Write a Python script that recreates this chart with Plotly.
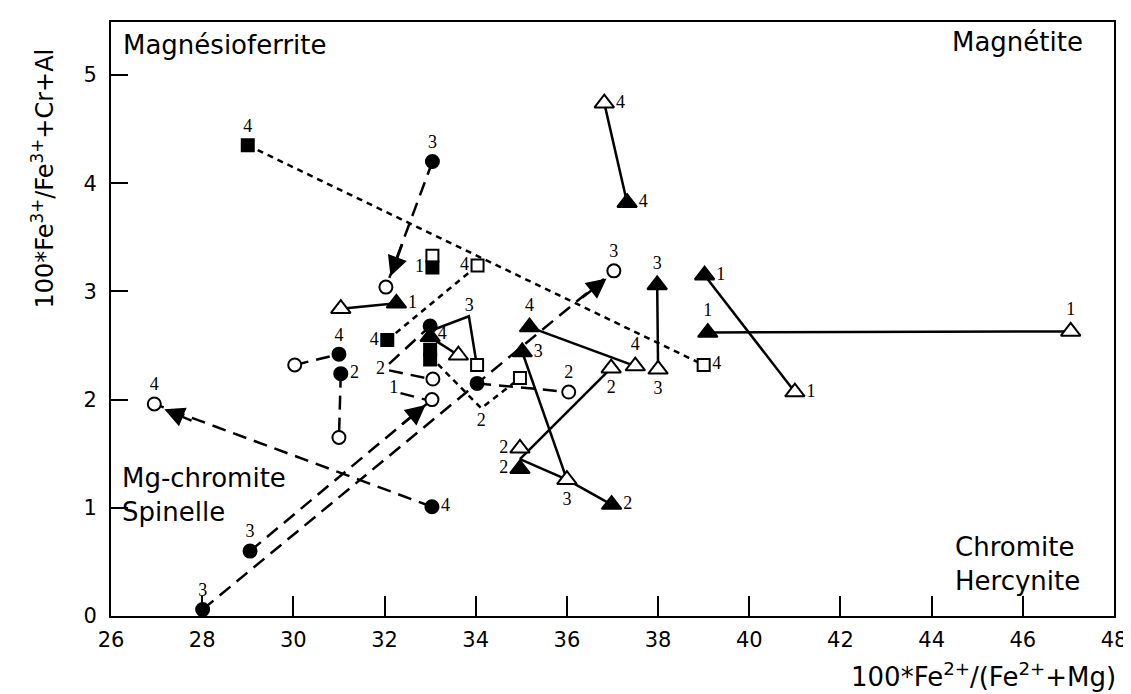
import plotly.graph_objects as go

# --- data ---
# filled circles
fc_x = [33.05, 31.0, 31.04, 34.03, 33.04, 29.05, 28.01, 33.0]
fc_y = [4.2, 2.42, 2.24, 2.15, 1.01, 0.6, 0.06, 2.68]
fc_lab = ["3", "4", "2", None, "4", "3", "3", None]
# open circles
oc_x = [32.03, 30.03, 31.0, 33.06, 33.04, 37.03, 36.04, 26.95]
oc_y = [3.04, 2.32, 1.65, 2.19, 2.0, 3.19, 2.07, 1.96]
oc_lab = [None, None, None, None, None, "3", "2", "4"]
# filled squares
fs_x = [29.0, 33.05, 32.06, 33.0, 33.0]
fs_y = [4.35, 3.22, 2.55, 2.46, 2.37]
fs_lab = ["4", "1", "4", None, None]
# open squares
os_x = [33.05, 34.04, 34.03, 34.97, 39.0]
os_y = [3.33, 3.24, 2.32, 2.2, 2.32]
os_lab = [None, "4", None, None, "4"]
# filled triangles
ft_x = [32.26, 37.32, 37.98, 39.02, 39.09, 35.18, 35.02, 34.97, 36.98, 33.0]
ft_y = [2.89, 3.82, 3.06, 3.15, 2.62, 2.67, 2.44, 1.36, 1.03, 2.58]
ft_lab = ["1", "4", "3", "1", "1", "4", "3", "2", "2", None]
# open triangles
ot_x = [31.04, 36.82, 38.0, 41.0, 47.05, 37.5, 36.97, 33.62, 34.97, 36.0]
ot_y = [2.84, 4.74, 2.28, 2.07, 2.63, 2.31, 2.29, 2.41, 1.55, 1.26]
ot_lab = [None, "4", "3", "1", "1", "4", "2", "4", "2", "3"]

# labels without a marker
free_x = [33.86, 34.12, 31.91, 32.2]
free_y = [2.86, 1.8, 2.28, 2.1]
free_lab = ["3", "2", "2", "1"]

# connecting lines (None separates segments)
solid_x = [31.04, 32.26, None, 36.82, 37.32, None, 37.98, 38.0, None, 39.02, 41.0, None,
           39.09, 47.05, None, 35.18, 37.5, None, 34.97, 36.97, None, 35.02, 36.0, None,
           34.97, 36.0, 36.98, None, 33.1, 33.85, 34.0, None, 33.1, 33.62]
solid_y = [2.84, 2.89, None, 4.74, 3.82, None, 3.06, 2.28, None, 3.15, 2.07, None,
           2.62, 2.63, None, 2.67, 2.31, None, 1.45, 2.29, None, 2.44, 1.26, None,
           1.45, 1.26, 1.03, None, 2.65, 2.77, 2.38, None, 2.55, 2.41]

dash_x = [33.05, 32.03, None, 33.04, 26.95, None, 29.05, 33.04, None, 28.01, 37.03, None,
          30.03, 31.0, None, 31.04, 31.0, None, 34.03, 36.04, None, 32.1, 33.0, None,
          32.1, 32.9, None, 32.35, 32.9]
dash_y = [4.2, 3.04, None, 1.01, 1.96, None, 0.6, 2.0, None, 0.06, 3.19, None,
          2.32, 2.42, None, 2.24, 1.65, None, 2.15, 2.07, None, 2.33, 2.68, None,
          2.27, 2.2, None, 2.06, 2.0]

dot_x = [29.0, 39.0, None, 32.06, 34.04, None, 33.0, 34.12, 34.97]
dot_y = [4.35, 2.32, None, 2.55, 3.24, None, 2.4, 1.92, 2.2]

# arrow heads: tip and base
arr_tip_x = [32.13, 27.17, 32.9, 36.87]
arr_tip_y = [3.14, 1.91, 1.95, 3.12]
arr_base_x = [32.4, 27.8, 32.35, 36.3]
arr_base_y = [3.45, 1.8, 1.76, 2.93]

x_ticks = [26, 28, 30, 32, 34, 36, 38, 40, 42, 44, 46, 48]
y_ticks = [0, 1, 2, 3, 4, 5]

lab_font = dict(family="Liberation Serif", size=18, color="black")
fig = go.Figure()

fig.add_trace(go.Scatter(x=solid_x, y=solid_y, mode="lines",
                         line=dict(color="black", width=2.5)))
fig.add_trace(go.Scatter(x=dash_x, y=dash_y, mode="lines",
                         line=dict(color="black", width=2.5, dash="14px,8px")))
fig.add_trace(go.Scatter(x=dot_x, y=dot_y, mode="lines",
                         line=dict(color="black", width=2.5, dash="6px,5px")))


def add_markers(x, y, lab, symbol, size, filled, positions):
    marker = dict(symbol=symbol, size=size, color="black" if filled else "white",
                  line=dict(color="black", width=2))
    plain = [i for i in range(len(x)) if lab[i] is None]
    named = [i for i in range(len(x)) if lab[i] is not None]
    if plain:
        fig.add_trace(go.Scatter(x=[x[i] for i in plain], y=[y[i] for i in plain],
                                 mode="markers", marker=marker))
    fig.add_trace(go.Scatter(
        x=[x[i] for i in named], y=[y[i] for i in named], mode="markers+text",
        text=[lab[i] for i in named], textposition=[positions[i] for i in named],
        textfont=lab_font, marker=marker))


add_markers(os_x, os_y, os_lab, "square", 12, False,
            ["middle left", "middle left", "top center", "top center", "middle right"])
add_markers(oc_x, oc_y, oc_lab, "circle", 13, False, ["top center"] * 8)
add_markers(ot_x, ot_y, ot_lab, "triangle-up", 17, False,
            ["top center", "middle right", "bottom center", "middle right", "top center",
             "top center", "bottom center", "top left", "middle left", "bottom center"])
add_markers(fs_x, fs_y, fs_lab, "square", 12, True,
            ["top center", "middle left", "middle left", "top center", "top center"])
add_markers(fc_x, fc_y, fc_lab, "circle", 13, True,
            ["top center", "top center", "middle right", "top center", "middle right",
             "top center", "top center", "top center"])
add_markers(ft_x, ft_y, ft_lab, "triangle-up", 17, True,
            ["middle right", "middle right", "top center", "middle right", "top center",
             "top center", "middle right", "middle left", "middle right", "top center"])

fig.add_trace(go.Scatter(x=free_x, y=free_y, mode="text", text=free_lab,
                         textposition="middle center", textfont=lab_font))

for tx, ty, bx, by in zip(arr_tip_x, arr_tip_y, arr_base_x, arr_base_y):
    fig.add_annotation(x=tx, y=ty, ax=bx, ay=by, xref="x", yref="y", axref="x", ayref="y",
                       text="", showarrow=True, arrowhead=2, arrowsize=1.6,
                       arrowwidth=2.5, arrowcolor="black", standoff=0)

region_font = dict(family="DejaVu Sans", size=26, color="black")
fig.add_annotation(text="Magnésioferrite", x=0.01, y=0.962, xref="paper", yref="paper",
                   xanchor="left", yanchor="middle", showarrow=False, font=region_font)
fig.add_annotation(text="Magnétite", x=0.971, y=0.966, xref="paper", yref="paper",
                   xanchor="right", yanchor="middle", showarrow=False, font=region_font)
fig.add_annotation(text="Mg-chromite<br>Spinelle", x=0.009, y=0.204, xref="paper", yref="paper",
                   xanchor="left", yanchor="middle", align="left", showarrow=False, font=region_font)
fig.add_annotation(text="Chromite<br>Hercynite", x=0.839, y=0.088, xref="paper", yref="paper",
                   xanchor="left", yanchor="middle", align="left", showarrow=False, font=region_font)

fig.add_annotation(text="100*Fe<sup>3+</sup>/Fe<sup>3+</sup>+Cr+Al", textangle=-90,
                   x=-0.068, y=0.736, xref="paper", yref="paper",
                   xanchor="center", yanchor="middle", showarrow=False,
                   font=dict(family="DejaVu Sans", size=24, color="black"))
fig.add_annotation(text="100*Fe<sup>2+</sup>/(Fe<sup>2+</sup>+Mg)",
                   x=0.87, y=-0.1, xref="paper", yref="paper",
                   xanchor="center", yanchor="middle", showarrow=False,
                   font=dict(family="DejaVu Sans", size=26, color="black"))

axis_common = dict(showgrid=False, zeroline=False, showline=True, linecolor="black",
                   linewidth=2, mirror=True, ticks="inside", tickcolor="black",
                   tickwidth=2, tickfont=dict(family="DejaVu Sans", size=21, color="black"))
fig.update_xaxes(range=[26, 48], tickvals=x_ticks, ticklen=20, ticklabelstandoff=4,
                 **axis_common)
fig.update_yaxes(range=[0, 5.49], tickvals=y_ticks, ticklen=17, ticklabelstandoff=8,
                 **axis_common)

fig.update_layout(width=1131, height=694, showlegend=False,
                  margin=dict(l=103, r=22, t=12, b=86),
                  plot_bgcolor="white", paper_bgcolor="white")

fig.write_html("out.html")
